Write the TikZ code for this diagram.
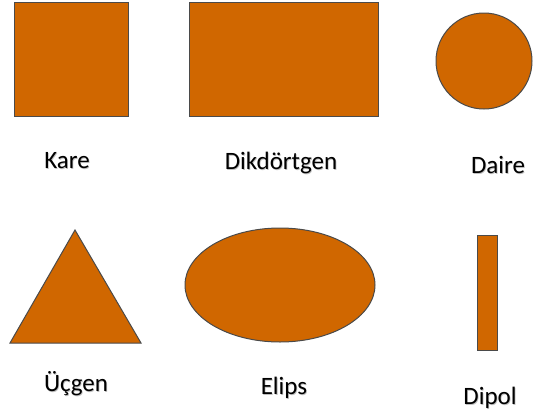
\documentclass[tikz,border=0pt]{standalone}
\usepackage{fontspec}
\setmainfont{Carlito}
\definecolor{shapefill}{HTML}{D06700}
\definecolor{shapeline}{HTML}{4A4A4A}
\begin{document}
\begin{tikzpicture}[x=1pt,y=-1pt,
  shp/.style={fill=shapefill,draw=shapeline,line width=1pt},
  lbl/.style={font=\fontsize{25}{28}\selectfont,text=black,inner sep=0pt},
  shd/.style={font=\fontsize{25}{28}\selectfont,text=black!25,inner sep=0pt}]
\useasboundingbox (0,0) rectangle (542,416);
% shapes
\draw[shp] (14,2) rectangle (128,116);
\draw[shp] (189,2) rectangle (378,116);
\draw[shp] (484,61) circle (48);
\draw[shp] (75,230) -- (141,343) -- (10,343) -- cycle;
\draw[shp] (280,285) ellipse [x radius=95, y radius=57];
\draw[shp] (477,235) rectangle (497,350);
% labels with soft shadow
\foreach \x/\y/\t/\n in {67/161/Kare/kare, 281/163/Dikdörtgen/dikd, 498/165/Daire/daire, 76/384/Üçgen/ucgen, 284/388/Elips/elips, 490/398/Dipol/dipol}{
  \node[shd] (\n s) at (\x+0.8,\y+1) {\t};
  \node[lbl] (\n) at (\x,\y) {\t};
}
\end{tikzpicture}
\end{document}
